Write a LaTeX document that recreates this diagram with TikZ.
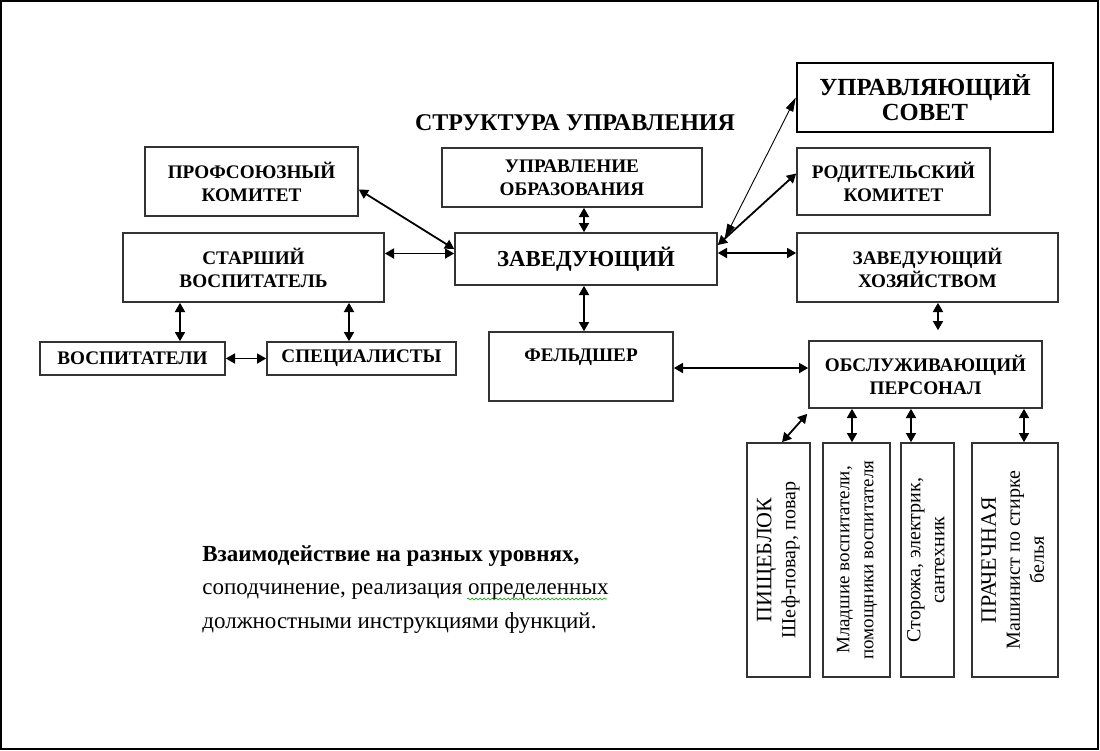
\documentclass[tikz,border=0pt]{standalone}
\usepackage{fontspec}
\setmainfont{Liberation Serif}
\usepackage{graphicx}
\usetikzlibrary{arrows.meta}
\usetikzlibrary{decorations.pathmorphing}
\tikzset{box/.style={draw=black!80, line width=.8pt, align=center, inner sep=0pt,
   font=\fontsize{9.6}{11.5}\selectfont\bfseries},
 vbox/.style={draw=black!80, line width=.8pt, inner sep=0pt,
   font=\fontsize{10}{12}\selectfont},
 biarrow/.style={{Triangle[length=4.6pt,width=5pt]}-{Triangle[length=4.6pt,width=5pt]},
   line width=.9pt},
 thinarrow/.style={{Triangle[length=7pt,width=4pt]}-{Triangle[length=7pt,width=4pt]},
   line width=.45pt},
 note/.style={anchor=base west, inner sep=0pt, font=\fontsize{11.5}{13}\selectfont},
 }

\begin{document}
\begin{tikzpicture}[x=0.5pt,y=-0.5pt]
        \useasboundingbox (0,0) rectangle (1100,751);
        \draw[line width=1pt] (1,1) rectangle (1098,749);
        \node[font=\fontsize{12}{13}\selectfont\bfseries] (title) at (575,123) {СТРУКТУРА УПРАВЛЕНИЯ};
        % top row
        \node[box, draw=black, line width=1.2pt, minimum width=128pt, minimum height=34.5pt,
              font=\fontsize{12.3}{12.5}\selectfont\bfseries] (sovet) at (925,97.5) {УПРАВЛЯЮЩИЙ\\СОВЕТ};
        \node[box, minimum width=106.5pt, minimum height=34.5pt] (prof) at (251.5,181.5) {ПРОФСОЮЗНЫЙ\\КОМИТЕТ};
        \node[box, minimum width=130pt, minimum height=29.5pt] (upobr) at (572,177.5) {УПРАВЛЕНИЕ\\ОБРАЗОВАНИЯ};
        \node[box, minimum width=96.5pt, minimum height=33.5pt] (rodit) at (893.5,181.5) {РОДИТЕЛЬСКИЙ\\КОМИТЕТ};
        % middle row
        \node[box, minimum width=131pt, minimum height=26pt,
              font=\fontsize{11.4}{13}\selectfont\bfseries] (zav) at (586,259) {ЗАВЕДУЮЩИЙ};
        \node[box, minimum width=130.5pt, minimum height=34.5pt] (starsh) at (253.5,267.5) {СТАРШИЙ\\ВОСПИТАТЕЛЬ};
        \node[box, minimum width=130.5pt, minimum height=34.5pt] (zavhoz) at (927.5,267.5) {ЗАВЕДУЮЩИЙ\\ХОЗЯЙСТВОМ};
        % lower row
        \node[box, minimum width=92.5pt, minimum height=16.5pt] (vosp) at (132.5,358.5) {ВОСПИТАТЕЛИ};
        \node[box, minimum width=94.5pt, minimum height=16.5pt] (spec) at (361.5,358.5) {СПЕЦИАЛИСТЫ};
        \node[box, minimum width=92pt, minimum height=34.5pt] (feld) at (581,366.5) {ФЕЛЬДШЕР\\\mbox{}};
        \node[box, minimum width=116.5pt, minimum height=33.5pt] (obsl) at (925.5,374.5) {ОБСЛУЖИВАЮЩИЙ\\ПЕРСОНАЛ};
        % staff columns
        \node[vbox, minimum width=31.5pt, minimum height=117pt] (pische) at (778.5,560)
            {\rotatebox{90}{\begin{tabular}{@{}c@{}}{\fontsize{11}{13}\selectfont ПИЩЕБЛОК}\\Шеф-повар, повар\end{tabular}}};
        \node[vbox, minimum width=33.5pt, minimum height=117pt, font=\fontsize{9.5}{12}\selectfont] (mlad) at (856.5,560)
            {\rotatebox{90}{\begin{tabular}{@{}c@{}}Младшие воспитатели,\\помощники воспитателя\end{tabular}}};
        \node[vbox, minimum width=26.5pt, minimum height=117pt] (storozh) at (927.5,560)
            {\rotatebox{90}{\begin{tabular}{@{}c@{}}Сторожа, электрик,\\сантехник\end{tabular}}};
        \node[vbox, minimum width=43pt, minimum height=117pt] (prach) at (1015,560)
            {\rotatebox{90}{\begin{tabular}{@{}c@{}}{\fontsize{11}{13}\selectfont ПРАЧЕЧНАЯ}\\Машинист по стирке\\белья\end{tabular}}};
        % connectors
        \draw[biarrow] ([yshift=-4pt]prof.east) -- ([yshift=5pt]zav.west);
        \draw[biarrow] ([yshift=7pt]starsh.east) -- ([yshift=7pt]starsh.east -| zav.west);
        \draw[biarrow] ([xshift=-1pt]zav.north) -- ([xshift=-1pt]zav.north |- upobr.south);
        \draw[biarrow] ([xshift=-1pt]zav.south) -- ([xshift=-1pt]zav.south |- feld.north);
        \draw[biarrow] ([xshift=23.75pt]starsh.south -| vosp.north) -- ([xshift=23.75pt]vosp.north);
        \draw[biarrow] ([xshift=-6.25pt]starsh.south -| spec.north) -- ([xshift=-6.25pt]spec.north);
        \draw[biarrow] (vosp.east) -- (spec.west);
        \draw[biarrow] ([yshift=3pt]zav.east) -- ([yshift=3pt]zav.east -| zavhoz.west);
        \draw[biarrow] ([yshift=7pt]zav.east) -- ([yshift=4pt]rodit.west);
        \draw[thinarrow] ([xshift=3.5pt,yshift=10.5pt]zav.east) -- (sovet.west);
        \draw[biarrow, shorten >=5pt] ([xshift=5.25pt]zavhoz.south) -- ([xshift=5.25pt]zavhoz.south |- obsl.north);
        \draw[biarrow] ([yshift=-0.75pt]feld.east) -- ([yshift=-0.75pt]feld.east -| obsl.west);
        \draw[biarrow] ([xshift=1.75pt]pische.north) -- ([xshift=-0.5pt,yshift=-2.5pt]obsl.south west);
        \draw[biarrow] ([xshift=-2.25pt]mlad.north) -- ([xshift=-2.25pt]mlad.north |- obsl.south);
        \draw[biarrow] ([xshift=-8.25pt]storozh.north) -- ([xshift=-8.25pt]storozh.north |- obsl.south);
        \draw[biarrow] ([xshift=4.5pt]prach.north) -- ([xshift=4.5pt]prach.north |- obsl.south);
        % note
        \node[note, font=\fontsize{11.5}{13}\selectfont\bfseries] (note1) at (202,561) {Взаимодействие на разных уровнях,};
        \node[note] (note2) at (202,594) {соподчинение, реализация определенных};
        \node[note] (note3) at (202,628) {должностными инструкциями функций.};
        \draw[green!60!black, line width=.3pt, decorate, decoration={snake, amplitude=.5pt, segment length=2pt}]
            (467,599) -- (607,599);
\end{tikzpicture}
\end{document}
